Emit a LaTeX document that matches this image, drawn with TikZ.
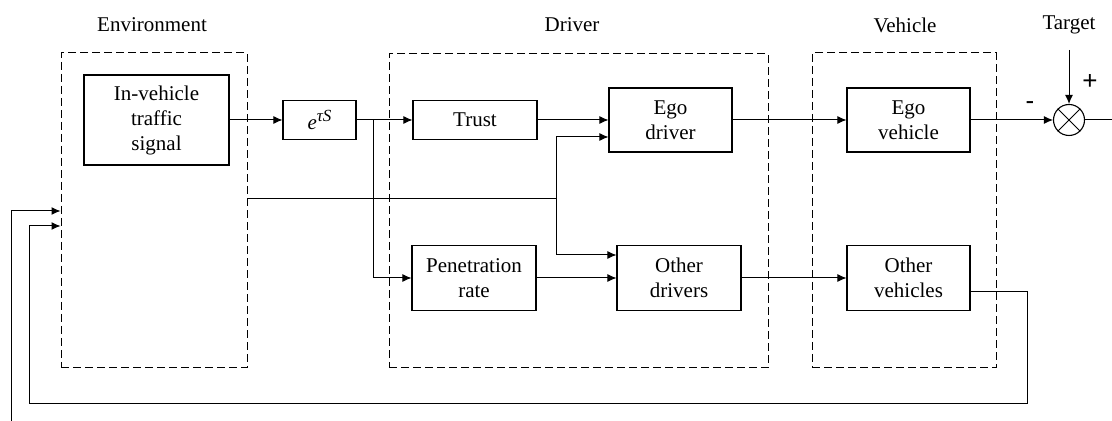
\documentclass[tikz,border=0pt]{standalone}
\usepackage{fontspec}
\setmainfont{Liberation Serif}
\newfontfamily\signfont{Liberation Sans}
\usetikzlibrary{arrows.meta,calc,positioning}

\tikzset{
  block/.style={draw,line width=0.55pt,align=center,inner sep=0pt,font=\fontsize{10.5}{12.5}\selectfont},
  group/.style={draw,dash pattern=on 4pt off 2pt,line width=0.5pt,inner sep=0pt},
  title/.style={font=\fontsize{10.5}{12.5}\selectfont},
  sig/.style={-{Latex[length=4.5pt,width=4pt]},line width=0.5pt},
}

\begin{document}
\begin{tikzpicture}[x=0.5pt,y=-0.5pt]
    \useasboundingbox (0,0) rectangle (1112,421);

    % Groups:
    \node[group,minimum width=93pt,minimum height=157.5pt] (env) at (154,210.5) {};
    \node[group,minimum width=189.5pt,minimum height=157pt] (drv) at (578.5,211) {};
    \node[group,minimum width=92pt,minimum height=157.5pt] (veh) at (904,210.5) {};
    \node[title] (envtitle) at (152,25) {Environment};
    \node[title] (drvtitle) at (572,25) {Driver};
    \node[title] (vehtitle) at (905,25) {Vehicle};

    % Environment
    \node[block,minimum width=72.5pt,minimum height=45pt] (signal) at (156.5,120) {In-vehicle\\traffic\\signal};
    \node[block,minimum width=36.5pt,minimum height=19.5pt] (delay) at (319.5,120) {\textit{e}\raisebox{0.8ex}{\fontsize{8.5}{10}\selectfont\textit{τS}}};

    % Driver
    \node[block,minimum width=62pt,minimum height=19.5pt] (trust) at (475,120) {Trust};
    \node[block,minimum width=61.5pt,minimum height=32pt] (egodrv) at (670.5,120) {Ego\\driver};
    \node[block,minimum width=62pt,minimum height=32.5pt] (penet) at (474,278) {Penetration\\rate};
    \node[block,minimum width=62pt,minimum height=32.5pt] (othdrv) at (679,278) {Other\\drivers};

    % Vehicle
    \node[block,minimum width=61.5pt,minimum height=32pt] (egoveh) at (908.5,120) {Ego\\vehicle};
    \node[block,minimum width=61.5pt,minimum height=32.5pt] (othveh) at (908.5,278) {Other\\vehicles};

    % Comparison with target
    \node[draw,circle,line width=0.55pt,minimum size=15.5pt,inner sep=0pt] (sum) at (1069,120) {};
    \draw[line width=0.5pt] (sum.north west) -- (sum.south east) (sum.north east) -- (sum.south west);
    \node[title] (target) at (1069,25) {Target};
    \node[font=\signfont\fontsize{13}{15}\selectfont] (plus) at (1090,82) {+};
    \node[font=\signfont\fontsize{13}{15}\selectfont] (minus) at (1030,106) {-};
    \coordinate (tgt) at (1069,50);
    \coordinate (out) at (1112,120);

    % Signals
    \coordinate (split) at (373,120);
    \coordinate (split2) at (556,199);
    \draw[sig] (signal.east) -- (delay.west);
    \draw[line width=0.5pt] (delay.east) -- (split);
    \draw[sig] (split) -- (trust.west);
    \draw[sig] (split) |- (penet.west);
    \draw[line width=0.5pt] ($(env.east)+(0,-11.5)$) -- (split2);
    \draw[sig] (split2) |- ($(egodrv.west)+(0,17)$);
    \draw[sig] (split2) |- ($(othdrv.west)+(0,-23)$);
    \draw[sig] (trust.east) -- (egodrv.west);
    \draw[sig] (penet.east) -- (othdrv.west);
    \draw[sig] (egodrv.east) -- (egoveh.west);
    \draw[sig] (othdrv.east) -- (othveh.west);
    \draw[sig] (egoveh.east) -- (sum.west);
    \draw[sig] (tgt) -- (sum.north);
    \draw[line width=0.5pt] (sum.east) -- (out);

    % Feedback
    \coordinate (fbR) at (1027,404);
    \coordinate (fbL) at (29,404);
    \coordinate (ext) at (11,421);
    \draw[sig] ($(othveh.east)+(0,13.5)$) -| (fbR) -- (fbL) |- ($(env.west)+(0,15.5)$);
    \draw[sig] (ext) |- ($(env.west)+(0,0.5)$);
\end{tikzpicture}
\end{document}
